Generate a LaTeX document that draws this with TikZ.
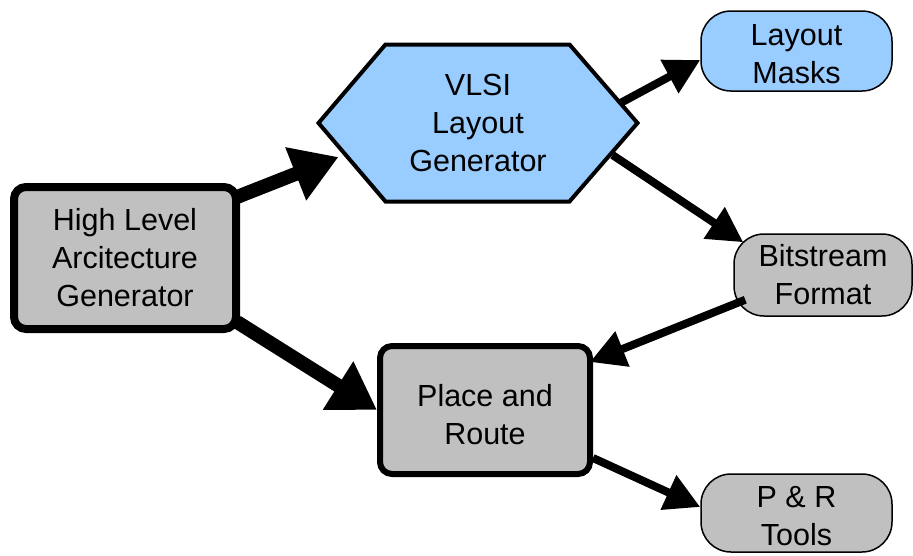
\documentclass[tikz,border=0pt]{standalone}
\usepackage{fontspec}
\setmainfont{Liberation Sans}
\usetikzlibrary{arrows.meta,calc,backgrounds}
\definecolor{boxgray}{HTML}{C0C0C0}
\definecolor{boxblue}{HTML}{99CCFF}
\newcommand{\lowr}[2]{\raisebox{-#1}[\height][\depth]{#2}}
\begin{document}
\begin{tikzpicture}[x=1pt,y=-1pt,
  lbl/.style={font=\fontsize{30.5}{38}\selectfont, align=center, text=black, inner sep=0pt},
  bigbox/.style={lbl, draw=black, fill=boxgray, line width=8pt, rounded corners=12pt},
  prbox/.style={lbl, draw=black, fill=boxgray, line width=6pt, rounded corners=12pt},
  pill/.style={lbl, draw=black, line width=1.5pt, rounded corners=30pt},
  hexbox/.style={draw=black, fill=boxblue, line width=4pt, line join=miter},
  bigarrow/.style={line width=14pt, -{Triangle[length=46pt, width=54pt]}},
  smallarrow/.style={line width=8pt, -{Triangle[length=35pt, width=36pt]}}
]
\useasboundingbox (0,0) rectangle (913,555);

\node[bigbox, minimum width=222pt, minimum height=142pt] (hlag) at (125,258) {High Level\\Arcitecture\\Generator};
\node[prbox, minimum width=210pt, minimum height=128pt] (pr) at (485,410) {\lowr{5pt}{Place and}\\\lowr{5pt}{Route}};
\node[pill, fill=boxblue, minimum width=191pt, minimum height=80pt] (masks) at (796.5,51) {\lowr{3pt}{Layout}\\\lowr{3pt}{Masks}};
\node[pill, fill=boxgray, minimum width=178pt, minimum height=82pt] (bits) at (823,275) {Bitstream\\Format};
\node[pill, fill=boxgray, minimum width=191pt, minimum height=78pt] (prt) at (796.5,513) {\lowr{3pt}{P \& R}\\\lowr{3pt}{Tools}};
\node[lbl, minimum width=319pt, minimum height=157pt, outer sep=0pt] (vlsi) at (478,123) {VLSI\\Layout\\Generator};

\begin{pgfonlayer}{background}
\draw[hexbox] (vlsi.west) -- ($(vlsi.north west)+(67,0)$) -- ($(vlsi.north east)+(-68,0)$)
  -- (vlsi.east) -- ($(vlsi.south east)+(-68,0)$) -- ($(vlsi.south west)+(67,0)$) -- cycle;
\end{pgfonlayer}

\draw[bigarrow] ([xshift=-3pt,yshift=-14pt]hlag.north east) -- ($(vlsi.west)+(20,34)$);
\draw[bigarrow] ([xshift=-3pt,yshift=11pt]hlag.south east) -- (pr.west);
\draw[smallarrow] ($(vlsi.east)+(-17,-20)$) -- ([yshift=-9pt]masks.west);
\draw[smallarrow] ($(vlsi.east)+(-25,32)$) -- ([xshift=10pt,yshift=-9pt]bits.north west);
\draw[smallarrow] ([xshift=12pt,yshift=17pt]bits.south west) -- ([xshift=-3pt,yshift=-19pt]pr.north east);
\draw[smallarrow] ([yshift=19pt]pr.south east) -- ([yshift=6pt]prt.west);
\end{tikzpicture}
\end{document}
